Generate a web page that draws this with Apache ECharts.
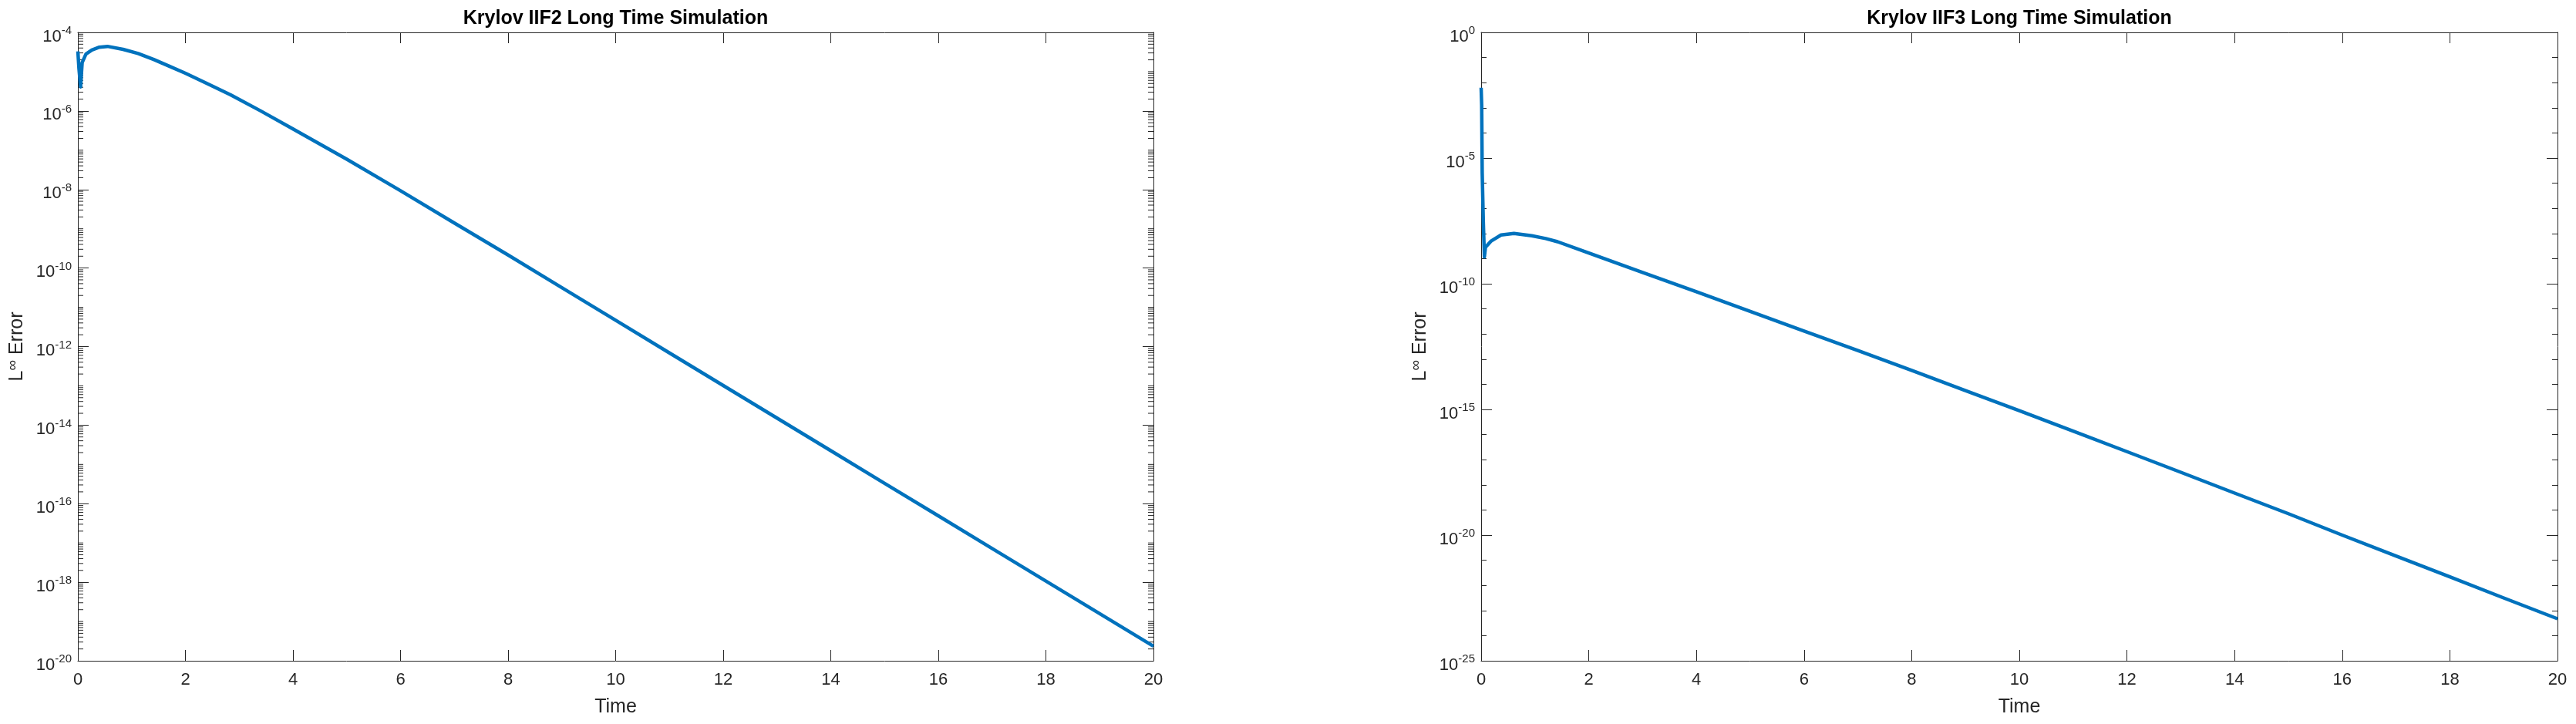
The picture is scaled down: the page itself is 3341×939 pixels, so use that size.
<!DOCTYPE html>
<html>
<head>
<meta charset="utf-8">
<script src="https://cdn.jsdelivr.net/npm/echarts@6/dist/echarts.min.js"></script>
<style>
html,body{margin:0;padding:0;background:#ffffff;}
#chart{width:3341px;height:939px;}
</style>
</head>
<body>
<div id="chart"></div>
<script>
// ---------- data ----------
const timeIIF2 = [0, 0.02, 0.05, 0.08, 0.15, 0.26, 0.4, 0.55, 0.84, 1.12, 1.41, 1.7, 2, 2.4, 2.84, 3.4, 4, 5, 6, 7, 8, 9, 10, 11, 12, 13, 14, 15, 16, 17, 18, 19, 20];
const errorIIF2 = [3.3e-5, 1.2e-5, 4.1e-6, 1.7e-5, 2.8e-5, 3.55e-5, 4.2e-5, 4.4e-5, 3.7e-5, 2.9e-5, 2.04e-5, 1.38e-5, 9.1e-6, 5.0e-6, 2.57e-6, 1.0e-6, 3.47e-7, 5.9e-8, 9.3e-9, 1.4e-9, 2.14e-10, 3.16e-11, 4.68e-12, 6.9e-13, 1.02e-13, 1.51e-14, 2.24e-15, 3.3e-16, 4.9e-17, 7.24e-18, 1.07e-18, 1.58e-19, 2.34e-20];

const timeIIF3 = [0, 0.01, 0.02, 0.04, 0.06, 0.08, 0.18, 0.37, 0.61, 0.94, 1.2, 1.42, 2, 3, 4, 5, 6, 7, 8, 9, 10, 11, 12, 13, 14, 15, 16, 17, 18, 19, 20];
const errorIIF3 = [6.3e-3, 1.26e-3, 2.5e-6, 3.2e-8, 1.17e-9, 2.8e-9, 4.9e-9, 8.7e-9, 1.0e-8, 8.1e-9, 6.3e-9, 4.7e-9, 1.66e-9, 2.8e-10, 4.8e-11, 7.9e-12, 1.32e-12, 2.19e-13, 3.55e-14, 5.6e-15, 8.9e-16, 1.38e-16, 2.09e-17, 3.16e-18, 4.7e-19, 7.1e-20, 1.0e-20, 1.48e-21, 2.19e-22, 3.16e-23, 4.7e-24];

// axis ranges / ticks
const timeRange = [0, 20];
const timeTickStep = 2;
const expRangeIIF2 = [-20, -4];   // decades, labels every 2
const expStepIIF2 = 2;
const expRangeIIF3 = [-25, 0];    // decades, labels every 5
const expStepIIF3 = 5;
const minorMultipliers = [2, 3, 4, 5, 6, 7, 8, 9];

const titles = ['Krylov IIF2 Long Time Simulation', 'Krylov IIF3 Long Time Simulation'];
const xName = 'Time';

// ---------- build ----------
const FONT = '"Liberation Sans", Arial, Helvetica, sans-serif';
const AX = '#262626';
const LINE = '#0072BD';

// minor tick positions (log10) for the IIF2 axis: every k*10^d not on a labelled tick
const minorIIF2 = [];
for (let d = expRangeIIF2[0]; d < expRangeIIF2[1]; d++) {
  if ((d - expRangeIIF2[0]) % expStepIIF2 !== 0) minorIIF2.push(d);
  minorMultipliers.forEach(k => minorIIF2.push(d + Math.log10(k)));
}

const toLog = (ts, es) => ts.map((t, i) => [t, Math.log10(es[i])]);

const yLabelRich = {
  b: {fontSize: 22, lineHeight: 30, fontFamily: FONT, color: AX},
  s: {fontSize: 15, lineHeight: 15, verticalAlign: 'top', fontFamily: FONT, color: AX}
};
const yNameStyle = {
  rich: {
    n: {fontSize: 25, lineHeight: 30, fontFamily: FONT, color: AX},
    i: {fontSize: 19, lineHeight: 19, verticalAlign: 'top', fontFamily: FONT, color: AX}
  }
};

function xAxes(gi) {
  const base = {
    type: 'value', gridIndex: gi, min: timeRange[0], max: timeRange[1], interval: timeTickStep,
    axisLine: {show: true, onZero: false, lineStyle: {color: AX, width: 1}},
    axisTick: {show: true, inside: true, length: 14, lineStyle: {color: AX, width: 1}},
    splitLine: {show: false}
  };
  return [
    Object.assign({}, base, {
      position: 'bottom',
      axisLabel: {show: true, margin: 13, fontSize: 22, lineHeight: 24, fontFamily: FONT, color: AX},
      name: xName, nameLocation: 'middle', nameGap: 46,
      nameTextStyle: {fontSize: 25, fontFamily: FONT, color: AX, lineHeight: 28}
    }),
    Object.assign({}, base, {position: 'top', axisLabel: {show: false}})
  ];
}

function yAxes(gi, range, step, withMinor) {
  const base = {
    type: 'value', gridIndex: gi, min: range[0], max: range[1], interval: step,
    axisLine: {show: true, onZero: false, lineStyle: {color: AX, width: 1}},
    axisTick: {show: true, inside: true, length: 14, lineStyle: {color: AX, width: 1}},
    minorTick: {show: withMinor, splitNumber: step, length: 7, lineStyle: {color: AX, width: 1}},
    splitLine: {show: false}, minorSplitLine: {show: false}
  };
  return [
    Object.assign({}, base, {
      position: 'left',
      axisLabel: {show: true, margin: 8, padding: [11, 0, 0, 0],
        formatter: v => '{b|10}{s|' + v + '}', rich: yLabelRich},
      name: '{n|L}{i|\u221E}{n| Error}', nameLocation: 'middle', nameGap: 64,
      nameTextStyle: yNameStyle
    }),
    Object.assign({}, base, {position: 'right', axisLabel: {show: false}})
  ];
}

function minorTickSeries(xi, yi, values) {
  return {
    type: 'custom', xAxisIndex: xi, yAxisIndex: yi, silent: true, clip: false, z: 1,
    data: values.map(v => [timeRange[0], v]),
    encode: {x: 0, y: 1},
    renderItem: (params, api) => {
      const y = api.value(1);
      const a = api.coord([timeRange[0], y]);
      const b = api.coord([timeRange[1], y]);
      const st = {stroke: AX, lineWidth: 1};
      return {type: 'group', children: [
        {type: 'line', shape: {x1: a[0], y1: a[1], x2: a[0] + 7, y2: a[1]}, style: st},
        {type: 'line', shape: {x1: b[0] - 7, y1: b[1], x2: b[0], y2: b[1]}, style: st}
      ]};
    }
  };
}

const grids = [
  {left: 101, top: 42, width: 1395, height: 815},
  {left: 1921, top: 42, width: 1396, height: 815}
];

const option = {
  animation: false,
  backgroundColor: '#ffffff',
  title: titles.map((t, i) => ({
    text: t,
    left: grids[i].left + grids[i].width / 2,
    top: 24,
    textAlign: 'center',
    textVerticalAlign: 'middle',
    padding: 0,
    textStyle: {fontSize: 25, fontWeight: 'bold', fontFamily: FONT, color: '#000000'}
  })),
  grid: grids.map(g => Object.assign({containLabel: false, outerBoundsMode: 'none'}, g)),
  xAxis: [].concat(xAxes(0), xAxes(1)),
  yAxis: [].concat(yAxes(0, expRangeIIF2, expStepIIF2, false), yAxes(1, expRangeIIF3, expStepIIF3, true)),
  series: [
    minorTickSeries(0, 0, minorIIF2),
    {
      type: 'line', name: 'IIF2', xAxisIndex: 0, yAxisIndex: 0,
      data: toLog(timeIIF2, errorIIF2), showSymbol: false, symbol: 'none', smooth: false, z: 3,
      lineStyle: {color: LINE, width: 4.5, join: 'round'}, itemStyle: {color: LINE}
    },
    {
      type: 'line', name: 'IIF3', xAxisIndex: 2, yAxisIndex: 2,
      data: toLog(timeIIF3, errorIIF3), showSymbol: false, symbol: 'none', smooth: false, z: 3,
      lineStyle: {color: LINE, width: 4.5, join: 'round'}, itemStyle: {color: LINE}
    }
  ]
};

const chart = echarts.init(document.getElementById('chart'), null, {renderer: 'canvas', width: 3341, height: 939});
chart.setOption(option);
</script>
</body>
</html>
